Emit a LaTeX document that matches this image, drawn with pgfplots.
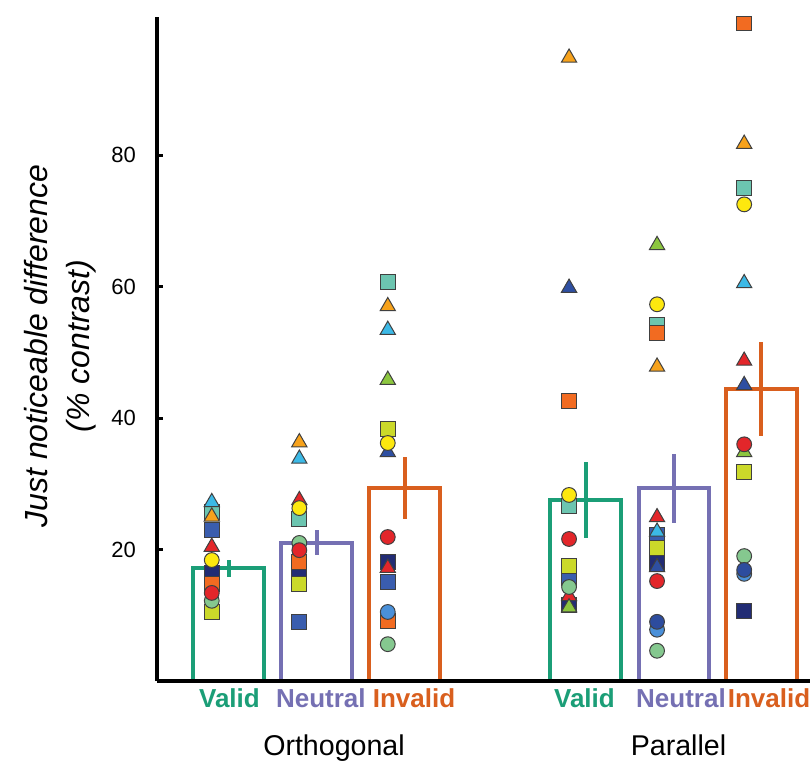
\documentclass[border=0pt]{standalone}
\usepackage{fontspec}
\setmainfont{Liberation Sans}
\usepackage{pgfplots}
\pgfplotsset{compat=1.18}

% bar / label colours
\definecolor{cvalid}{HTML}{1B9E77}
\definecolor{cneutral}{HTML}{7570B3}
\definecolor{cinvalid}{HTML}{D95F1E}
% subject marker colours
\definecolor{mOrange}{HTML}{F7A21B}
\definecolor{mCyan}{HTML}{3CB9E6}
\definecolor{mRed}{HTML}{E3262A}
\definecolor{mGreen}{HTML}{8CC63F}
\definecolor{mBlueTri}{HTML}{2E4FA2}
\definecolor{mTeal}{HTML}{6CC5B0}
\definecolor{mBlueSq}{HTML}{3A5DAE}
\definecolor{mNavy}{HTML}{222C74}
\definecolor{mOrangeSq}{HTML}{F26B21}
\definecolor{mLime}{HTML}{CBD92A}
\definecolor{mYellow}{HTML}{FDE80F}
\definecolor{mLtGreen}{HTML}{85C88F}
\definecolor{mBlueCi}{HTML}{4A90D9}
\definecolor{mNavyCi}{HTML}{2D4C9E}

\pgfplotsset{
  sq/.style={only marks, mark=square*, mark size=3.7pt,
    mark options={fill=#1, draw=black!75, line width=0.5pt}},
  tri/.style={only marks, mark=triangle*, mark size=4.4pt,
    mark options={fill=#1, draw=black!75, line width=0.5pt}},
  ci/.style={only marks, mark=*, mark size=3.7pt,
    mark options={fill=#1, draw=black!75, line width=0.5pt}},
  bar/.style={ybar, bar width=0.8, bar shift=0pt, draw=#1, fill=none,
    line width=2pt,
    error bars/.cd, y dir=both, y explicit, error mark=none,
    error bar style={line width=2pt, #1}},
}

\begin{document}
\begin{tikzpicture}
\begin{axis}[
  scale only axis,
  width=326.5pt, height=332pt,
  xmin=-0.8125, xmax=6.608,
  ymin=0, ymax=101,
  axis x line=bottom, axis y line=left,
  axis line style={line width=1.75pt, -},
  xtick=\empty,
  ytick={20,40,60,80},
  tick align=inside,
  major tick length=3pt,
  tick style={line width=1.5pt, black},
  yticklabel style={font=\fontsize{11}{13}\selectfont, xshift=-7pt},
  /pgf/number format/assume math mode=true,
  clip=false,
  axis on top,
]

% group means with error bars
\addplot[bar=cvalid]   coordinates {(0,17.2)     += (0,1.2) -= (0,1.4)};
\addplot[bar=cneutral] coordinates {(1,21.0)     += (0,1.9) -= (0,1.8)};
\addplot[bar=cinvalid] coordinates {(2,29.3)     += (0,4.7) -= (0,4.7)};
\addplot[bar=cvalid]   coordinates {(4.057,27.5) += (0,5.8) -= (0,5.8)};
\addplot[bar=cneutral] coordinates {(5.06,29.3)  += (0,5.2) -= (0,5.2)};
\addplot[bar=cinvalid] coordinates {(6.055,44.4) += (0,7.1) -= (0,7.1)};

% individual observers: squares
\addplot[sq=mTeal] coordinates {(-0.19,25.7) (0.805,24.6) (1.81,60.7) (3.87,26.6) (4.87,54.2) (5.86,75.0)};
\addplot[sq=mBlueSq] coordinates {(-0.19,23.0) (0.805,9.0) (1.81,15.1) (3.87,15.6) (4.87,22.2)};
\addplot[sq=mNavy] coordinates {(-0.19,16.4) (0.805,16.7) (1.81,18.1) (3.87,11.5) (4.87,18.0) (5.86,10.6)};
\addplot[sq=mOrangeSq] coordinates {(-0.19,14.8) (0.805,18.1) (1.81,9.1) (3.87,42.6) (4.87,52.9) (5.86,100.0)};
\addplot[sq=mLime] coordinates {(-0.19,10.5) (0.805,14.8) (1.81,38.3) (3.87,17.5) (4.87,20.2) (5.86,31.8)};

% triangles
\addplot[tri=mOrange] coordinates {(-0.19,25.0) (0.805,36.3) (1.81,57.0) (3.87,94.8) (4.87,47.8) (5.86,81.7)};
\addplot[tri=mCyan] coordinates {(-0.19,27.2) (0.805,33.8) (1.81,53.4) (4.87,22.7) (5.86,60.5)};
\addplot[tri=mRed] coordinates {(-0.19,20.4) (0.805,27.5) (1.81,17.2) (3.87,12.9) (4.87,24.9) (5.86,48.7)};
\addplot[tri=mGreen] coordinates {(1.81,45.8) (3.87,11.2) (4.87,66.3) (5.86,34.8)};
\addplot[tri=mBlueTri] coordinates {(1.81,34.8) (3.87,59.8) (4.87,17.3) (5.86,45.0)};

% circles
\addplot[ci=mLtGreen] coordinates {(-0.19,12.2) (0.805,21.0) (1.81,5.6) (3.87,14.3) (4.87,4.6) (5.86,19.0)};
\addplot[ci=mBlueCi] coordinates {(1.81,10.5) (4.87,7.8) (5.86,16.3)};
\addplot[ci=mNavyCi] coordinates {(4.87,9.0) (5.86,16.9)};
\addplot[ci=mRed] coordinates {(-0.19,13.4) (0.805,19.9) (1.81,21.9) (3.87,21.6) (4.87,15.2) (5.86,36.0)};
\addplot[ci=mYellow] coordinates {(-0.19,18.4) (0.805,26.3) (1.81,36.2) (3.87,28.3) (4.87,57.3) (5.86,72.5)};

% condition labels
\node[font=\fontsize{13}{15}\selectfont\bfseries, text=cvalid, anchor=base, yshift=-13pt] at (axis cs:0.011,0) {Valid};
\node[font=\fontsize{13}{15}\selectfont\bfseries, text=cneutral, anchor=base, yshift=-13pt] at (axis cs:1.05,0) {Neutral};
\node[font=\fontsize{13}{15}\selectfont\bfseries, text=cinvalid, anchor=base, yshift=-13pt] at (axis cs:2.108,0) {Invalid};
\node[font=\fontsize{13}{15}\selectfont\bfseries, text=cvalid, anchor=base, yshift=-13pt] at (axis cs:4.045,0) {Valid};
\node[font=\fontsize{13}{15}\selectfont\bfseries, text=cneutral, anchor=base, yshift=-13pt] at (axis cs:5.142,0) {Neutral};
\node[font=\fontsize{13}{15}\selectfont\bfseries, text=cinvalid, anchor=base, yshift=-13pt] at (axis cs:6.142,0) {Invalid};
% group labels
\node[font=\fontsize{14.3}{16}\selectfont, anchor=base, yshift=-37pt] at (axis cs:1.199,0) {Orthogonal};
\node[font=\fontsize{14.3}{16}\selectfont, anchor=base, yshift=-37pt] at (axis cs:5.114,0) {Parallel};
\end{axis}

\node[rotate=90, align=center, font=\fontsize{16}{21}\selectfont\itshape] at (-48.5pt,167.5pt)
  {Just noticeable difference\\(\% contrast)};

\pgfresetboundingbox
\path[use as bounding box] (-78.5pt,-40.5pt) rectangle (326.5pt,340.5pt);
\end{tikzpicture}
\end{document}
